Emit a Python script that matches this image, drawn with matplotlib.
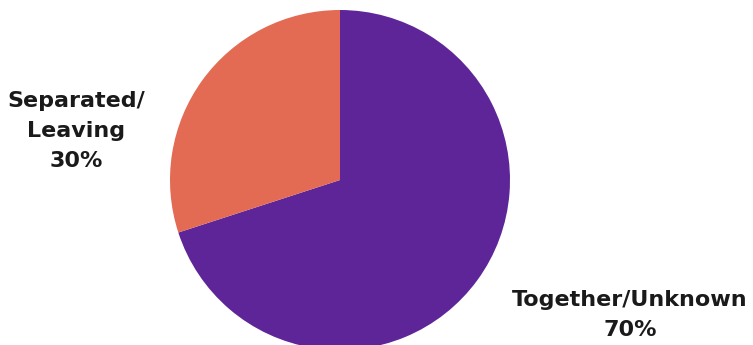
import matplotlib
matplotlib.use("Agg")
import matplotlib.pyplot as plt

labels = ["Together/Unknown", "Separated/\nLeaving"]
shares = [70, 30]
colors = ["#5E2599", "#E36A53"]

W, H = 753, 345
fig = plt.figure(figsize=(W / 100, H / 100), dpi=100)
ax = fig.add_axes([0, 0, 1, 1])

# pie in pixel units so the circle can run off the bottom edge
ax.pie(shares, colors=colors, startangle=90, counterclock=False,
       center=(340, H - 180), radius=170, frame=True,
       wedgeprops=dict(linewidth=0))
ax.set_xlim(0, W)
ax.set_ylim(0, H)
ax.axis("off")

txt = dict(fontsize=16, fontweight="bold", color="#1a1a1a",
           ha="center", va="center", linespacing=1.6,
           family=["DejaVu Sans"])
ax.text(630, H - 315, f"{labels[0]}\n{shares[0]}%", **txt)
ax.text(76, H - 131, f"{labels[1]}\n{shares[1]}%", **txt)

fig.savefig("out.png", dpi=100)
